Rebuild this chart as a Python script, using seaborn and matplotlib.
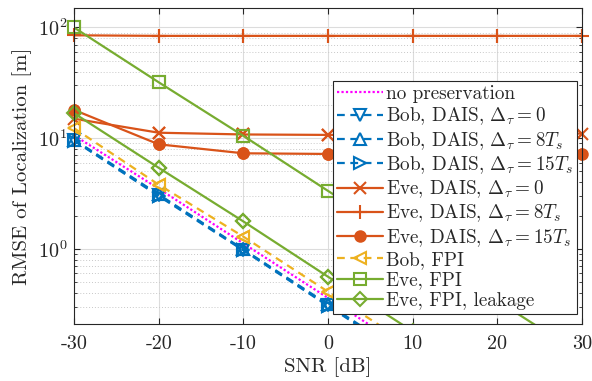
import matplotlib
matplotlib.use("Agg")
import matplotlib.pyplot as plt
import matplotlib.ticker as mticker
import seaborn as sns

# SNR grid (dB)
snr = [-30, -20, -10, 0, 10, 20, 30]

# RMSE of localization [m]
no_preservation = [10.6, 3.5, 1.12, 0.36, 0.115, 0.037, 0.012]
bob_dais_0 = [9.6, 3.05, 0.98, 0.31, 0.098, 0.031, 0.0098]
bob_dais_8 = [9.7, 3.1, 0.99, 0.315, 0.1, 0.032, 0.010]
bob_dais_15 = [9.5, 3.0, 0.97, 0.305, 0.097, 0.031, 0.0097]
eve_dais_0 = [15.0, 11.2, 10.8, 10.7, 10.8, 10.9, 11.0]
eve_dais_8 = [85, 84, 84, 84, 84, 84, 84]
eve_dais_15 = [18.0, 8.8, 7.3, 7.2, 7.2, 7.2, 7.2]
bob_fpi = [12.3, 3.8, 1.29, 0.41, 0.13, 0.041, 0.013]
eve_fpi = [100, 32, 10.5, 3.34, 1.07, 0.34, 0.11]
eve_fpi_leak = [16.8, 5.4, 1.77, 0.56, 0.18, 0.057, 0.018]

labels = [
    "no preservation",
    r"Bob, DAIS, $\Delta_\tau = 0$",
    r"Bob, DAIS, $\Delta_\tau = 8T_s$",
    r"Bob, DAIS, $\Delta_\tau = 15T_s$",
    r"Eve, DAIS, $\Delta_\tau = 0$",
    r"Eve, DAIS, $\Delta_\tau = 8T_s$",
    r"Eve, DAIS, $\Delta_\tau = 15T_s$",
    "Bob, FPI",
    "Eve, FPI",
    "Eve, FPI, leakage",
]

BLUE = "#0072BD"
ORANGE = "#D95319"
YELLOW = "#EDB120"
GREEN = "#77AC30"
MAGENTA = "#FF00FF"
Y_LOW, Y_HIGH = 0.21, 150

sns.set_style("ticks")
plt.rcParams.update({
    "font.family": "serif",
    "font.serif": ["cmr10"],
    "mathtext.fontset": "cm",
    "axes.formatter.use_mathtext": True,
    "axes.unicode_minus": False,
    "font.size": 14,
})

fig = plt.figure(figsize=(5.92, 3.81), dpi=100)
ax = fig.add_axes([0.125, 0.150, 0.858, 0.829])

# (values, color, linestyle, marker, marker size, filled)
series = [
    (no_preservation, MAGENTA, (0, (1, 1)), None, 0, False),
    (bob_dais_0, BLUE, (0, (3.5, 2.5)), "v", 9, False),
    (bob_dais_8, BLUE, (0, (3.5, 2.5)), "^", 9, False),
    (bob_dais_15, BLUE, (0, (3.5, 2.5)), ">", 9, False),
    (eve_dais_0, ORANGE, "-", "x", 8, False),
    (eve_dais_8, ORANGE, "-", "+", 10, False),
    (eve_dais_15, ORANGE, "-", "o", 7.5, True),
    (bob_fpi, YELLOW, (0, (3.5, 2.5)), "<", 9, False),
    (eve_fpi, GREEN, "-", "s", 8, False),
    (eve_fpi_leak, GREEN, "-", "D", 7.5, False),
]

for (vals, color, ls, marker, ms, filled), label in zip(series, labels):
    mkw = dict(marker=marker, markersize=ms, markeredgecolor=color,
               markerfacecolor=color if filled else "none", markeredgewidth=1.5)
    sns.lineplot(x=snr, y=vals, ax=ax, color=color, linestyle=ls,
                 linewidth=1.6, label=label, **mkw)
    if marker is None:
        continue
    # markers sitting on the axes edge are drawn whole, like MATLAB does
    pts = [(x, v) for x, v in zip(snr, vals) if v >= Y_LOW]
    sns.lineplot(x=[p[0] for p in pts], y=[p[1] for p in pts], ax=ax,
                 color=color, linestyle="none", clip_on=False, **mkw)

ax.set_yscale("log")
ax.set_xlim(-30, 30)
ax.set_ylim(Y_LOW, Y_HIGH)
ax.set_xticks(snr)
ax.set_xticklabels([str(v) for v in snr])
ax.yaxis.set_major_locator(mticker.LogLocator(base=10, numticks=10))
ax.yaxis.set_minor_locator(mticker.LogLocator(base=10, subs=range(2, 10), numticks=10))
ax.yaxis.set_minor_formatter(mticker.NullFormatter())

ax.grid(True, which="major", color="#dcdcdc", linewidth=0.8)
ax.grid(True, which="minor", axis="y", color="#c8c8c8", linestyle=(0, (1, 2)), linewidth=0.7)
ax.set_axisbelow(True)

ax.tick_params(which="both", direction="in", top=True, right=True, colors="#262626",
               labelsize=14.5)
ax.tick_params(which="major", length=4)
ax.tick_params(which="minor", length=2)
ax.tick_params(axis="x", which="major", pad=8)
ax.tick_params(axis="y", which="major", pad=5)
for s in ax.spines.values():
    s.set_color("#262626")
    s.set_linewidth(0.8)

ax.set_xlabel("SNR [dB]", fontsize=15, color="#262626", labelpad=3)
ax.set_ylabel("RMSE of Localization [m]", fontsize=15, color="#262626", labelpad=4)

leg = ax.legend(loc="upper right", bbox_to_anchor=(0.99, 0.768), fontsize=13.8,
                handlelength=2.4, handletextpad=0.15, borderpad=0.2,
                labelspacing=0.13, borderaxespad=0, fancybox=False,
                framealpha=1, edgecolor="#262626")
leg.get_frame().set_linewidth(0.8)
leg.set_zorder(10)

fig.savefig("out.png", dpi=100)
